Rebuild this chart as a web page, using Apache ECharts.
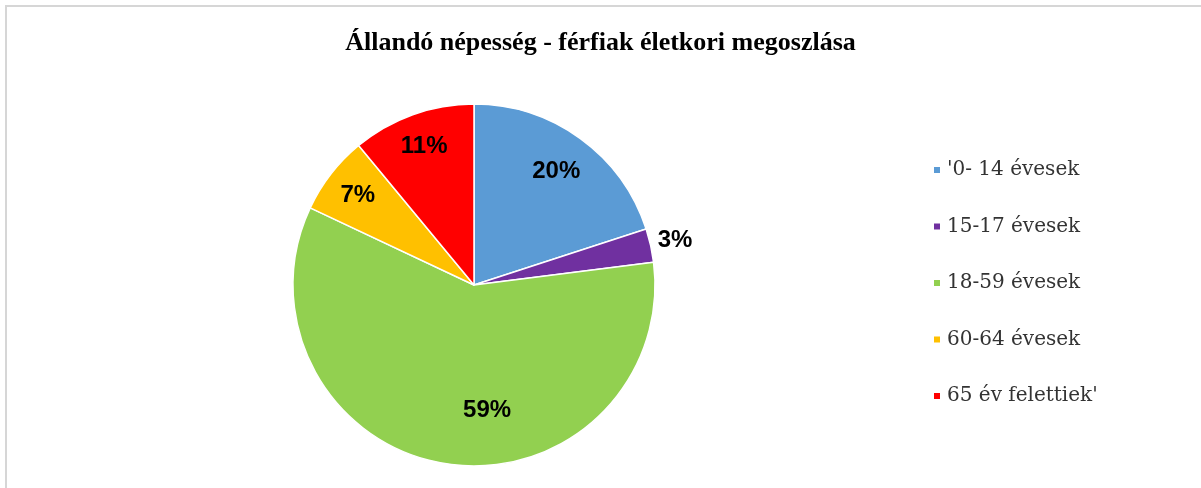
<!DOCTYPE html>
<html>
<head>
<meta charset="utf-8">
<script src="https://cdn.jsdelivr.net/npm/echarts@6/dist/echarts.min.js"></script>
<style>
html,body{margin:0;padding:0;background:#fff;}
#chart{width:1201px;height:488px;}
</style>
</head>
<body>
<div id="chart"></div>
<script>
// ---- data ----
const titleText = 'Állandó népesség - férfiak életkori megoszlása';
const categories = ["'0- 14 évesek", '15-17 évesek', '18-59 évesek', '60-64 évesek', "65 év felettiek'"];
const values = [20, 3, 59, 7, 11];
const colors = ['#5B9BD5', '#7030A0', '#92D050', '#FFC000', '#FF0000'];

// ---- layout ----
const CX = 474, CY = 285, R = 181;
const labelDist = [140, 206, 127, 147, 147];
const labelAdj = [[0, 0], [0, 0], [33, 0], [0, 0], [0, 0]];

const chart = echarts.init(document.getElementById('chart'), null, {renderer: 'canvas'});
const option = {
  backgroundColor: '#ffffff',
  animation: false,
  title: {
    text: titleText,
    left: 'center',
    top: 30,
    padding: 0,
    textStyle: {
      fontFamily: 'Liberation Serif',
      fontWeight: 'bold',
      fontSize: 26,
      color: '#000000'
    }
  },
  legend: {
    orient: 'vertical',
    left: 932,
    top: 160,
    padding: 0,
    itemWidth: 8,
    itemHeight: 8,
    itemGap: 36.5,
    icon: 'rect',
    data: categories,
    textStyle: {
      fontFamily: 'DejaVu Serif',
      fontSize: 20,
      lineHeight: 20,
      color: '#333333',
      padding: [0, 0, 0, 1]
    }
  },
  graphic: [{
    type: 'rect',
    silent: true,
    shape: {x: 6, y: 6, width: 1400, height: 700},
    style: {fill: 'none', stroke: '#d6d6d6', lineWidth: 2}
  }],
  series: [{
    type: 'pie',
    center: [CX, CY],
    radius: [0, R],
    startAngle: 90,
    clockwise: true,
    avoidLabelOverlap: false,
    data: categories.map((c, i) => ({name: c, value: values[i], itemStyle: {color: colors[i]}})),
    itemStyle: {borderColor: '#ffffff', borderWidth: 1.5},
    label: {
      show: true,
      position: 'inside',
      formatter: '{d}%',
      fontFamily: 'Liberation Sans',
      fontWeight: 'bold',
      fontSize: 24,
      color: '#000000'
    },
    labelLine: {show: false},
    labelLayout: function (params) {
      const i = params.dataIndex;
      const r = params.labelRect;
      const lx = r.x + r.width / 2, ly = r.y + r.height / 2;
      const dx = lx - CX, dy = ly - CY;
      const d = Math.sqrt(dx * dx + dy * dy) || 1;
      const k = labelDist[i] / d;
      return {
        x: CX + dx * k + labelAdj[i][0],
        y: CY + dy * k + labelAdj[i][1],
        align: 'center',
        verticalAlign: 'middle'
      };
    }
  }]
};
chart.setOption(option);
</script>
</body>
</html>
